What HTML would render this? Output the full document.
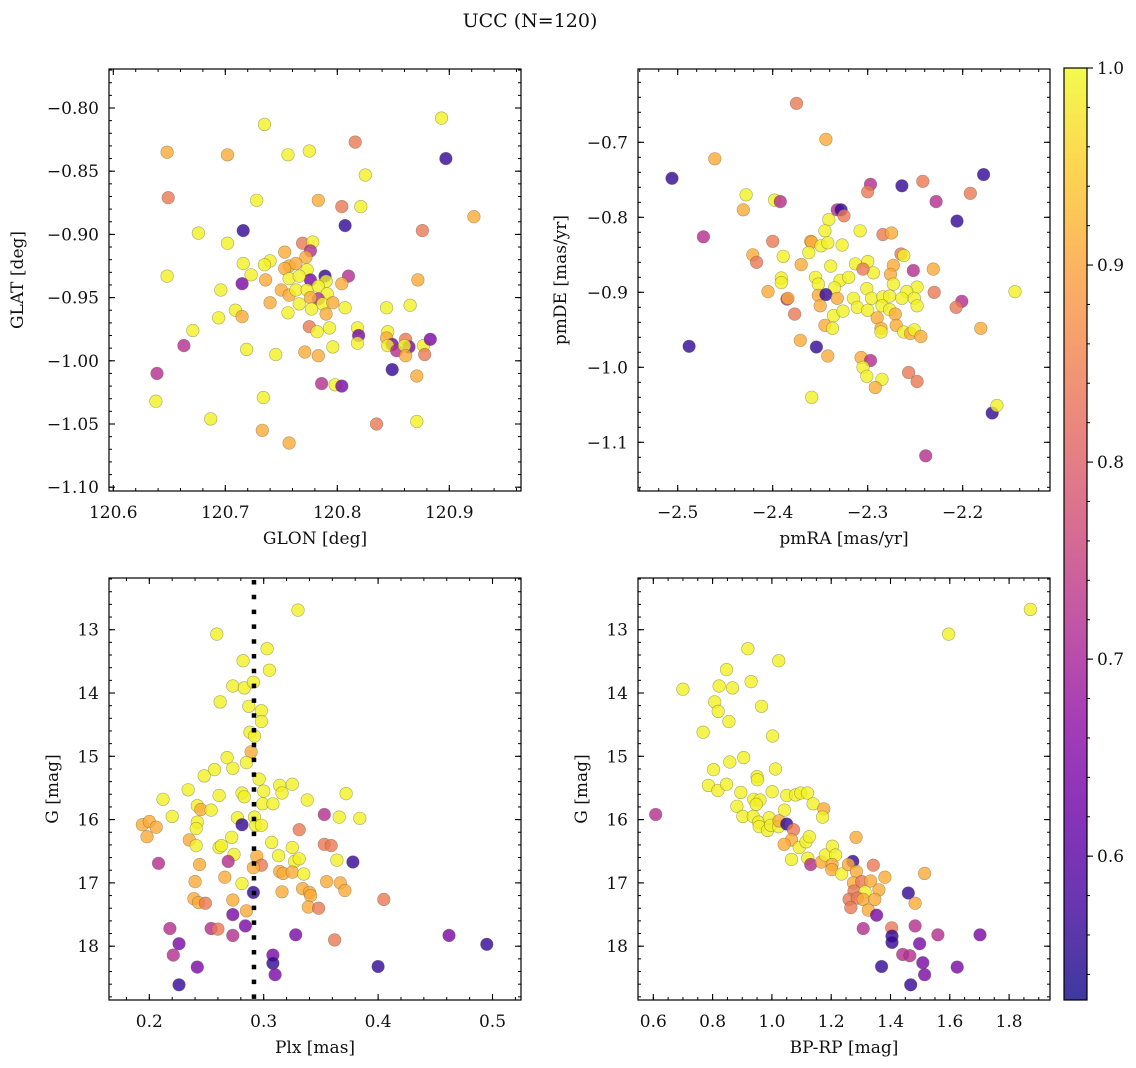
<!DOCTYPE html>
<html>
<head>
<meta charset="utf-8">
<style>
  html,body{margin:0;padding:0;background:#fff;}
  svg{display:block;font-family:"DejaVu Serif","Liberation Serif",serif;}
</style>
</head>
<body>
<svg id="fig" width="1136" height="1068" viewBox="0 0 1136 1068" xmlns="http://www.w3.org/2000/svg">
  <defs>
    <linearGradient id="plasmaGrad" x1="0" y1="1" x2="0" y2="0"></linearGradient>
  </defs>
  <rect width="1136" height="1068" fill="#fff"/>
  <text x="530" y="27" font-size="19" text-anchor="middle" fill="#111">UCC (N=120)</text>
</svg>
<script>
// ---------- DATA ----------
const glon = [120.735,120.648,120.702,120.756,120.775,120.816,120.893,120.897,120.649,120.728,
120.783,120.804,120.821,120.825,120.922,120.807,120.876,120.676,120.716,120.702,
120.769,120.778,120.776,120.753,120.772,120.716,120.740,120.735,120.723,120.648,
120.715,120.736,120.757,120.753,120.763,120.773,120.789,120.776,120.757,120.766,
120.790,120.810,120.804,120.872,120.696,120.750,120.757,120.763,120.773,120.783,
120.791,120.783,120.776,120.766,120.787,120.796,120.740,120.777,120.790,120.807,
120.756,120.709,120.715,120.694,120.844,120.865,120.671,120.663,120.719,120.745,
120.775,120.782,120.793,120.818,120.819,120.818,120.796,120.771,120.783,120.845,
120.844,120.849,120.845,120.853,120.861,120.864,120.860,120.861,120.877,120.883,
120.878,120.849,120.871,120.639,120.786,120.798,120.804,120.638,120.734,120.687,
120.733,120.757,120.835,120.871];
const glat = [-0.813,-0.835,-0.837,-0.837,-0.834,-0.827,-0.808,-0.840,-0.871,-0.873,
-0.873,-0.878,-0.878,-0.853,-0.886,-0.893,-0.897,-0.899,-0.897,-0.907,
-0.907,-0.906,-0.913,-0.914,-0.918,-0.923,-0.921,-0.924,-0.932,-0.933,
-0.939,-0.936,-0.925,-0.927,-0.923,-0.928,-0.933,-0.936,-0.935,-0.933,
-0.937,-0.933,-0.939,-0.936,-0.944,-0.944,-0.948,-0.944,-0.944,-0.941,
-0.947,-0.951,-0.950,-0.955,-0.955,-0.954,-0.954,-0.959,-0.963,-0.958,
-0.962,-0.960,-0.965,-0.966,-0.958,-0.956,-0.976,-0.988,-0.991,-0.995,
-0.973,-0.977,-0.974,-0.974,-0.980,-0.986,-0.989,-0.993,-0.996,-0.977,
-0.982,-0.987,-0.988,-0.992,-0.983,-0.989,-0.988,-0.996,-0.988,-0.983,
-0.995,-1.007,-1.012,-1.010,-1.018,-1.019,-1.020,-1.032,-1.029,-1.046,
-1.055,-1.065,-1.050,-1.048];
const probTL = [0.99,0.91,0.91,0.99,0.99,0.84,0.99,0.56,0.84,0.99,
0.91,0.84,0.99,0.99,0.91,0.56,0.84,0.99,0.56,0.99,
0.84,0.99,0.72,0.91,0.91,0.99,0.99,0.99,0.99,0.99,
0.64,0.91,0.91,0.91,0.91,0.99,0.56,0.64,0.99,0.99,
0.99,0.72,0.91,0.91,0.99,0.91,0.91,0.99,0.99,0.99,
0.99,0.72,0.91,0.99,0.99,0.91,0.91,0.99,0.91,0.99,
0.99,0.99,0.91,0.99,0.99,0.99,0.99,0.72,0.99,0.99,
0.84,0.99,0.99,0.99,0.64,0.99,0.99,0.91,0.91,0.99,
0.91,0.64,0.99,0.72,0.84,0.64,0.99,0.91,0.99,0.64,
0.84,0.56,0.91,0.72,0.72,0.99,0.64,0.99,0.99,0.99,
0.91,0.91,0.84,0.99];

const pmra = [-2.375,-2.344,-2.461,-2.506,-2.428,-2.431,-2.398,-2.392,-2.473,-2.297,
-2.300,-2.264,-2.242,-2.178,-2.192,-2.228,-2.206,-2.332,-2.328,-2.325,
-2.341,-2.345,-2.308,-2.284,-2.275,-2.400,-2.360,-2.359,-2.349,-2.342,
-2.327,-2.362,-2.421,-2.417,-2.389,-2.370,-2.339,-2.313,-2.300,-2.294,
-2.305,-2.265,-2.262,-2.273,-2.276,-2.252,-2.231,-2.391,-2.391,-2.355,
-2.352,-2.329,-2.320,-2.335,-2.301,-2.273,-2.248,-2.259,-2.230,-2.145,
-2.405,-2.385,-2.384,-2.352,-2.344,-2.332,-2.350,-2.315,-2.296,-2.284,
-2.277,-2.264,-2.251,-2.311,-2.300,-2.285,-2.277,-2.271,-2.248,-2.201,
-2.207,-2.377,-2.336,-2.326,-2.290,-2.345,-2.337,-2.286,-2.286,-2.270,
-2.262,-2.255,-2.251,-2.244,-2.181,-2.371,-2.354,-2.342,-2.307,-2.297,
-2.305,-2.301,-2.285,-2.292,-2.257,-2.248,-2.359,-2.169,-2.164,-2.239,
-2.488];
const pmde = [-0.648,-0.696,-0.722,-0.748,-0.770,-0.790,-0.777,-0.779,-0.826,-0.756,
-0.766,-0.758,-0.752,-0.743,-0.768,-0.779,-0.805,-0.790,-0.790,-0.798,
-0.803,-0.818,-0.818,-0.823,-0.821,-0.832,-0.832,-0.833,-0.838,-0.834,
-0.837,-0.847,-0.850,-0.860,-0.852,-0.863,-0.865,-0.862,-0.859,-0.874,
-0.869,-0.849,-0.851,-0.864,-0.876,-0.871,-0.869,-0.881,-0.887,-0.880,
-0.889,-0.884,-0.880,-0.894,-0.895,-0.889,-0.893,-0.899,-0.900,-0.899,
-0.899,-0.909,-0.908,-0.904,-0.903,-0.908,-0.918,-0.908,-0.908,-0.906,
-0.905,-0.908,-0.908,-0.920,-0.924,-0.918,-0.923,-0.929,-0.918,-0.912,
-0.920,-0.929,-0.931,-0.925,-0.934,-0.944,-0.948,-0.948,-0.953,-0.944,
-0.953,-0.955,-0.950,-0.959,-0.948,-0.964,-0.973,-0.985,-0.987,-0.991,
-1.000,-1.012,-1.016,-1.027,-1.007,-1.019,-1.040,-1.061,-1.051,-1.118,
-0.972];
const probTR = [0.84,0.91,0.91,0.56,0.99,0.91,0.99,0.72,0.72,0.72,
0.84,0.56,0.84,0.56,0.84,0.72,0.56,0.72,0.56,0.84,
0.99,0.99,0.99,0.84,0.91,0.84,0.91,0.91,0.99,0.99,
0.99,0.99,0.91,0.84,0.99,0.91,0.99,0.99,0.99,0.99,
0.84,0.84,0.99,0.91,0.91,0.72,0.91,0.99,0.99,0.99,
0.99,0.99,0.99,0.99,0.99,0.99,0.99,0.99,0.84,0.99,
0.91,0.72,0.91,0.91,0.56,0.91,0.91,0.99,0.99,0.99,
0.99,0.99,0.99,0.99,0.99,0.99,0.99,0.91,0.99,0.72,
0.84,0.84,0.99,0.99,0.91,0.91,0.99,0.91,0.99,0.91,
0.99,0.91,0.99,0.91,0.91,0.91,0.56,0.91,0.91,0.72,
0.99,0.99,0.99,0.91,0.84,0.84,0.99,0.56,0.99,0.72,
0.56];

const plx = [0.330,0.259,0.303,0.282,0.305,0.273,0.283,0.291,0.262,0.287,
0.298,0.298,0.288,0.292,0.289,0.268,0.285,0.273,0.257,0.248,
0.296,0.234,0.261,0.281,0.283,0.300,0.314,0.325,0.316,0.338,
0.372,0.212,0.242,0.245,0.254,0.299,0.308,0.220,0.277,0.292,
0.353,0.366,0.384,0.194,0.200,0.206,0.242,0.241,0.281,0.293,
0.298,0.198,0.235,0.241,0.261,0.263,0.272,0.331,0.307,0.325,
0.353,0.359,0.274,0.294,0.313,0.327,0.331,0.364,0.378,0.208,
0.244,0.269,0.298,0.291,0.314,0.317,0.325,0.335,0.266,0.240,
0.281,0.355,0.367,0.371,0.291,0.316,0.334,0.340,0.341,0.405,
0.239,0.243,0.249,0.273,0.285,0.339,0.348,0.273,0.218,0.254,
0.260,0.284,0.273,0.328,0.362,0.462,0.495,0.226,0.221,0.308,
0.308,0.310,0.242,0.400,0.226];
const gBL = [12.69,13.07,13.30,13.49,13.64,13.89,13.92,13.83,14.14,14.21,
14.28,14.45,14.62,14.68,14.93,15.02,15.10,15.19,15.21,15.31,
15.36,15.53,15.62,15.58,15.64,15.55,15.46,15.44,15.58,15.69,
15.59,15.68,15.78,15.84,15.85,15.75,15.75,15.95,15.97,15.96,
15.92,15.96,15.98,16.08,16.03,16.12,16.04,16.14,16.08,16.09,
16.09,16.27,16.32,16.41,16.44,16.41,16.28,16.16,16.36,16.44,
16.39,16.41,16.55,16.58,16.57,16.66,16.62,16.64,16.67,16.69,
16.71,16.66,16.72,16.76,16.82,16.85,16.83,16.86,16.91,16.98,
17.01,16.98,17.00,17.12,17.15,17.14,17.09,17.15,17.20,17.26,
17.25,17.31,17.32,17.27,17.44,17.38,17.40,17.50,17.72,17.72,
17.73,17.68,17.83,17.82,17.90,17.83,17.97,17.96,18.14,18.14,
18.27,18.45,18.33,18.32,18.61];
const probBL = [0.99,0.99,0.99,0.99,0.99,0.99,0.99,0.99,0.99,0.99,
0.99,0.99,0.99,0.99,0.91,0.99,0.99,0.99,0.99,0.99,
0.99,0.99,0.99,0.99,0.99,0.99,0.99,0.99,0.99,0.99,
0.99,0.99,0.99,0.91,0.99,0.99,0.99,0.99,0.99,0.99,
0.72,0.99,0.99,0.91,0.91,0.91,0.99,0.99,0.56,0.99,
0.99,0.91,0.91,0.99,0.99,0.99,0.99,0.84,0.99,0.99,
0.84,0.84,0.99,0.91,0.99,0.99,0.99,0.99,0.56,0.72,
0.91,0.72,0.84,0.91,0.91,0.91,0.91,0.99,0.91,0.91,
0.99,0.91,0.91,0.91,0.56,0.91,0.91,0.91,0.91,0.84,
0.91,0.91,0.84,0.91,0.91,0.91,0.84,0.64,0.72,0.72,
0.84,0.64,0.72,0.64,0.84,0.64,0.56,0.64,0.72,0.64,
0.56,0.64,0.64,0.56,0.56];
const plxMedian = [0.2915];

const bprp = [1.872,1.596,0.919,1.023,0.847,0.700,0.822,0.867,0.930,0.807,
0.819,0.965,0.855,0.768,1.002,0.905,0.858,0.803,1.012,0.950,
0.951,0.786,0.818,0.847,0.895,1.001,1.050,1.080,1.097,1.120,
1.139,0.939,0.960,0.947,0.882,1.042,1.175,1.171,0.608,0.902,
0.937,0.955,0.991,0.957,0.985,0.996,1.023,1.024,1.050,1.073,
1.066,1.041,1.092,1.115,1.126,1.066,1.121,1.131,1.167,1.180,
1.204,1.215,1.203,1.202,1.235,1.273,1.284,1.258,1.285,1.342,
1.381,1.515,1.275,1.303,1.333,1.277,1.314,1.361,1.260,1.288,
1.308,1.347,1.266,1.325,1.460,1.483,1.353,1.308,1.404,1.405,
1.405,1.483,1.498,1.560,1.702,1.441,1.465,1.509,1.625,1.370,
1.515,1.468];
const gBR = [12.68,13.07,13.30,13.49,13.63,13.94,13.89,13.92,13.82,14.14,
14.29,14.21,14.45,14.62,14.68,15.02,15.09,15.21,15.20,15.32,
15.37,15.46,15.54,15.44,15.57,15.56,15.62,15.61,15.58,15.58,
15.75,15.68,15.69,15.76,15.79,15.85,15.83,15.96,15.92,15.95,
15.95,16.04,15.97,16.11,16.17,16.09,16.11,16.02,16.07,16.16,
16.32,16.39,16.44,16.35,16.27,16.63,16.61,16.71,16.67,16.56,
16.42,16.56,16.71,16.79,16.86,16.66,16.28,16.71,16.82,16.72,
16.91,16.85,17.00,16.98,16.97,17.13,17.14,17.11,17.26,17.24,
17.26,17.26,17.39,17.43,17.16,17.32,17.51,17.72,17.71,17.84,
17.94,17.68,17.96,17.82,17.82,18.13,18.15,18.26,18.33,18.32,
18.45,18.61];
const probBR = [0.99,0.99,0.99,0.99,0.99,0.99,0.99,0.99,0.99,0.99,
0.99,0.99,0.99,0.99,0.99,0.99,0.99,0.99,0.99,0.99,
0.99,0.99,0.99,0.99,0.99,0.99,0.99,0.99,0.99,0.99,
0.99,0.99,0.99,0.99,0.99,0.99,0.91,0.99,0.72,0.99,
0.99,0.99,0.99,0.99,0.99,0.99,0.99,0.91,0.56,0.84,
0.91,0.91,0.99,0.99,0.99,0.99,0.99,0.72,0.91,0.99,
0.99,0.99,0.91,0.91,0.99,0.56,0.91,0.91,0.91,0.84,
0.91,0.91,0.91,0.84,0.91,0.84,0.99,0.91,0.84,0.84,
0.91,0.91,0.84,0.91,0.56,0.91,0.64,0.72,0.84,0.56,
0.56,0.72,0.64,0.72,0.64,0.72,0.72,0.64,0.64,0.56,
0.64,0.56];

const tlXTicks = [120.6,120.7,120.8,120.9];
const tlYTicks = [-0.80,-0.85,-0.90,-0.95,-1.00,-1.05,-1.10];
const trXTicks = [-2.5,-2.4,-2.3,-2.2];
const trYTicks = [-0.7,-0.8,-0.9,-1.0,-1.1];
const blXTicks = [0.2,0.3,0.4,0.5];
const gTicks = [13,14,15,16,17,18];
const brXTicks = [0.6,0.8,1.0,1.2,1.4,1.6,1.8];
const cbTicks = [0.6,0.7,0.8,0.9,1.0];
const cbRange = [0.527,1.0];

// ---------- RENDER ----------
const NS = "http://www.w3.org/2000/svg";
const svg = document.getElementById('fig');
function el(tag, attrs, parent){
  const e = document.createElementNS(NS, tag);
  for (const k in attrs) e.setAttribute(k, attrs[k]);
  (parent||svg).appendChild(e);
  return e;
}
function lin(d0,d1,p0,p1){ return v => p0 + (v-d0)*(p1-p0)/(d1-d0); }
function inv(d0,d1,p0,p1){ return p => d0 + (p-p0)*(d1-d0)/(p1-p0); }

const plasma = [[13,8,135],[65,4,157],[106,0,168],[143,13,164],[177,42,144],[204,71,120],[225,100,98],[242,132,75],[252,166,54],[252,206,37],[240,249,33]];
function cmap(t){
  t = Math.max(0, Math.min(1, t));
  const f = t*10, i = Math.min(9, Math.floor(f)), r = f - i;
  const a = plasma[i], b = plasma[i+1];
  return 'rgb(' + [0,1,2].map(k => Math.round(a[k] + (b[k]-a[k])*r)).join(',') + ')';
}
function pcol(p){ return cmap((p - cbRange[0])/(cbRange[1]-cbRange[0])); }
function fmtMinus(s){ return s.replace('-', '\u2212'); }

function panel(cfg){
  const g = el('g', {});
  
  
  const [L,T,R,B] = cfg.box;
  const sx = lin(cfg.xd[0], cfg.xd[1], cfg.xp[0], cfg.xp[1]);
  const sy = lin(cfg.yd[0], cfg.yd[1], cfg.yp[0], cfg.yp[1]);
  const ix = inv(cfg.xd[0], cfg.xd[1], cfg.xp[0], cfg.xp[1]);
  const iy = inv(cfg.yd[0], cfg.yd[1], cfg.yp[0], cfg.yp[1]);
  const pg = el('g', {}, g);
  
  
  for (let i = 0; i < cfg.xs.length; i++){
    const c = el('circle', {cx: sx(cfg.xs[i]).toFixed(1), cy: sy(cfg.ys[i]).toFixed(1), r: 6.3,
      fill: pcol(cfg.ps[i]), 'fill-opacity': 0.8, stroke: 'rgba(90,90,60,0.5)', 'stroke-width': 0.6}, pg);
    
    
  }
  if (cfg.extra) cfg.extra(g, sx, sy);
  const fr = el('rect', {x: L, y: T, width: R-L, height: B-T, fill: 'none', stroke: '#000', 'stroke-width': 1.2}, g);
  
  
  const xlo = Math.min(ix(L), ix(R)), xhi = Math.max(ix(L), ix(R));
  for (let k = Math.ceil(xlo/cfg.xminor - 1e-6); k*cfg.xminor <= xhi + 1e-9; k++){
    const px = sx(k*cfg.xminor);
    if (px < L+0.5 || px > R-0.5) continue;
    el('line', {x1: px, y1: B, x2: px, y2: B-3, stroke: '#000', 'stroke-width': 1}, g);
    el('line', {x1: px, y1: T, x2: px, y2: T+3, stroke: '#000', 'stroke-width': 1}, g);
  }
  const ylo = Math.min(iy(T), iy(B)), yhi = Math.max(iy(T), iy(B));
  for (let k = Math.ceil(ylo/cfg.yminor - 1e-6); k*cfg.yminor <= yhi + 1e-9; k++){
    const py = sy(k*cfg.yminor);
    if (py < T+0.5 || py > B-0.5) continue;
    el('line', {x1: L, y1: py, x2: L+3, y2: py, stroke: '#000', 'stroke-width': 1}, g);
    el('line', {x1: R, y1: py, x2: R-3, y2: py, stroke: '#000', 'stroke-width': 1}, g);
  }
  cfg.xticks.forEach(v => {
    const px = sx(v);
    el('line', {x1: px, y1: B, x2: px, y2: B-6, stroke: '#000', 'stroke-width': 1.1}, g);
    el('line', {x1: px, y1: T, x2: px, y2: T+6, stroke: '#000', 'stroke-width': 1.1}, g);
    const t = el('text', {x: px, y: B+27, 'font-size': 17, 'text-anchor': 'middle', fill: '#111'}, g);
    t.textContent = fmtMinus(v.toFixed(cfg.xdec));
    
    
  });
  cfg.yticks.forEach(v => {
    const py = sy(v);
    el('line', {x1: L, y1: py, x2: L+6, y2: py, stroke: '#000', 'stroke-width': 1.1}, g);
    el('line', {x1: R, y1: py, x2: R-6, y2: py, stroke: '#000', 'stroke-width': 1.1}, g);
    const t = el('text', {x: L-10, y: py+6, 'font-size': 17, 'text-anchor': 'end', fill: '#111'}, g);
    t.textContent = fmtMinus(v.toFixed(cfg.ydec));
    
    
  });
  const xt = el('text', {x: (L+R)/2, y: B+53, 'font-size': 17, 'text-anchor': 'middle', fill: '#111'}, g);
  xt.textContent = cfg.xlabel;
  
  
  const yt = el('text', {x: 0, y: 0, 'font-size': 17, 'text-anchor': 'middle', fill: '#111',
    transform: 'translate(' + cfg.ylabelX + ',' + ((T+B)/2) + ') rotate(-90)'}, g);
  yt.textContent = cfg.ylabel;
  
  
}

panel({name: 'glon-glat-panel', box: [109,69,521,491],
  xd: [120.6,120.9], xp: [113.3,449.3], yd: [-0.80,-1.10], yp: [108,487.2],
  xs: glon, ys: glat, ps: probTL, xticks: tlXTicks, yticks: tlYTicks, xdec: 1, ydec: 2,
  xminor: 0.02, yminor: 0.01, xlabel: 'GLON [deg]', ylabel: 'GLAT [deg]', ylabelX: 23});

panel({name: 'pm-panel', box: [638,69,1050,491],
  xd: [-2.5,-2.2], xp: [677.7,962.7], yd: [-0.7,-1.1], yp: [142.3,442.3],
  xs: pmra, ys: pmde, ps: probTR, xticks: trXTicks, yticks: trYTicks, xdec: 1, ydec: 1,
  xminor: 0.02, yminor: 0.02, xlabel: 'pmRA [mas/yr]', ylabel: 'pmDE [mas/yr]', ylabelX: 566});

panel({name: 'plx-g-panel', box: [109,578,521,1000],
  xd: [0.2,0.5], xp: [149.3,492.5], yd: [13,18], yp: [629.7,946.2],
  xs: plx, ys: gBL, ps: probBL, xticks: blXTicks, yticks: gTicks, xdec: 1, ydec: 0,
  xminor: 0.02, yminor: 0.2, xlabel: 'Plx [mas]', ylabel: 'G [mag]', ylabelX: 58,
  extra: (g, sx, sy) => {
    plxMedian.forEach(v => {
      const ln = el('line', {x1: sx(v), y1: 580, x2: sx(v), y2: 1000, stroke: '#000', 'stroke-width': 4.5, 'stroke-dasharray': '4.5,10.3'}, g);
      
      
    });
  }});

panel({name: 'cmd-panel', box: [638,578,1050,1000],
  xd: [0.6,1.8], xp: [653.3,1009.1], yd: [13,18], yp: [629.7,946.2],
  xs: bprp, ys: gBR, ps: probBR, xticks: brXTicks, yticks: gTicks, xdec: 1, ydec: 0,
  xminor: 0.05, yminor: 0.2, xlabel: 'BP-RP [mag]', ylabel: 'G [mag]', ylabelX: 587});

// ---------- COLORBAR ----------
const grad = document.getElementById('plasmaGrad');
for (let i = 0; i <= 10; i++){
  el('stop', {offset: (i/10), 'stop-color': cmap(i/10), 'stop-opacity': 0.8}, grad);
}
const cb = el('g', {});


const cbL = 1064, cbR = 1087, cbT = 68, cbB = 1000;
const cy = lin(cbRange[0], cbRange[1], cbB, cbT);
el('rect', {x: cbL, y: cbT, width: cbR-cbL, height: cbB-cbT, fill: 'url(#plasmaGrad)', stroke: '#000', 'stroke-width': 1.2}, cb);
for (let k = Math.ceil(cbRange[0]/0.02); k*0.02 <= cbRange[1] + 1e-9; k++){
  const py = cy(k*0.02);
  el('line', {x1: cbR, y1: py, x2: cbR+3, y2: py, stroke: '#000', 'stroke-width': 1}, cb);
}
cbTicks.forEach(v => {
  const py = cy(v);
  el('line', {x1: cbR, y1: py, x2: cbR+6, y2: py, stroke: '#000', 'stroke-width': 1.1}, cb);
  const t = el('text', {x: cbR+10, y: py+6, 'font-size': 17, fill: '#111'}, cb);
  t.textContent = v.toFixed(1);
  
  
});
</script>
</body>
</html>
